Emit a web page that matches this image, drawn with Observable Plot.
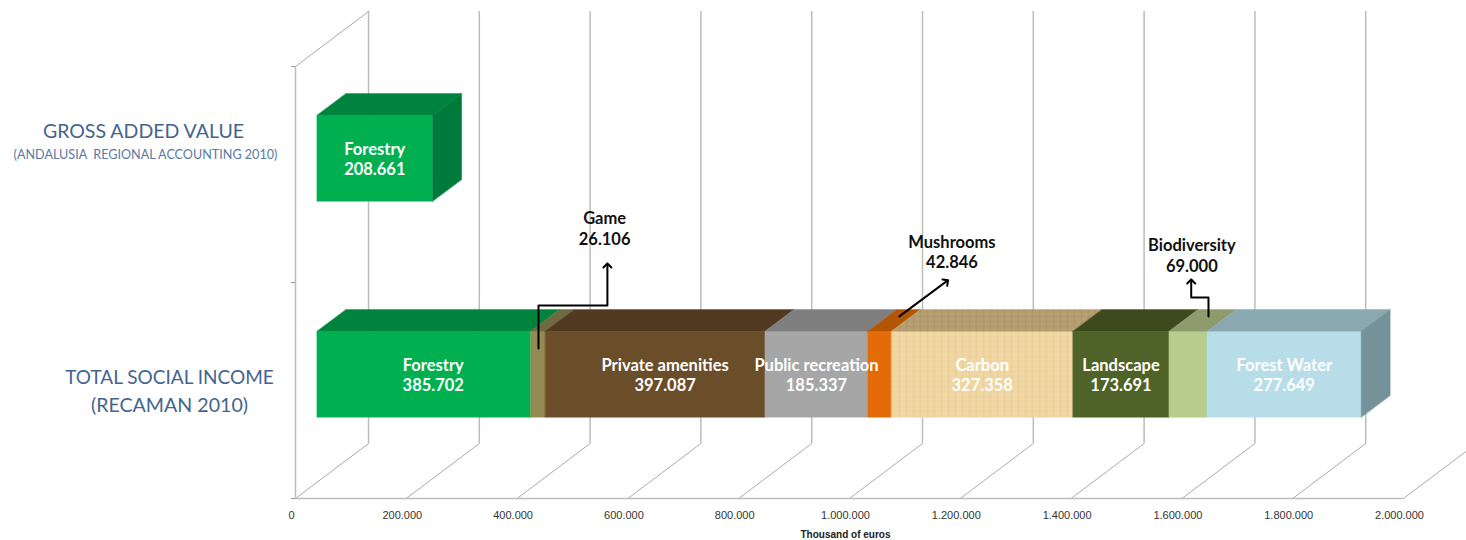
<!DOCTYPE html>
<html>
<head>
<meta charset="utf-8">
<style>html,body{margin:0;padding:0;background:#fff;overflow:hidden}</style>
<script src="https://cdn.jsdelivr.net/npm/d3@7"></script>
<script src="https://cdn.jsdelivr.net/npm/@observablehq/plot@0.6"></script>
</head>
<body>
<div id="chart"></div>
<script>
// Values (thousand of euros)
const incomeNames = ["Forestry","Game","Private amenities","Public recreation","Mushrooms","Carbon","Landscape","Biodiversity","Forest Water"];
const incomeValues = [385702,26106,397087,185337,42846,327358,173691,69000,277649];
const grossNames = ["Forestry"];
const grossValues = [208661];
const xTicks = [0,200000,400000,600000,800000,1000000,1200000,1400000,1600000,1800000,2000000];
const outsideLabels = ["Game","Mushrooms","Biodiversity"];
const gameLeader = [[438600,0.694],[438600,0.894],[563000,0.894],[563000,1.079]];
const mushroomLeader = [[1090000,0.843],[1175000,1.005]];
const biodiversityLeader = [[1648000,0.843],[1648000,0.931],[1616800,0.931],[1616800,1.005]];

// Palette
const frontColors = ["#00B050","#948A54","#6A4E2A","#A6A6A6","#E36C09","url(#wood)","#4F6228","#B8CC8E","#B7DDE8"];
const topColors = ["#00843D","#6F6A42","#523A20","#7F7F7F","#B35504","url(#woodTop)","#3C4A1E","#8D9B6D","#8AA8B0"];
const sideColor = {income:"#75919A", gross:"#007A3A"};

// 3D projection, in scale units: full depth of the chart box
const DX = 131800, DY = 0.2546;
const front = 0.2945, back = 0.692, halfH = 0.199;
const fmt = d3.formatLocale({decimal:",",thousands:".",grouping:[3],currency:["",""]}).format(",d");
const P = (x,y,d) => ({px:x+d*DX, py:y+d*DY});

function faces(x0,x1,yc,frontFill,topFill,id){
  const y0=yc-halfH, y1=yc+halfH;
  const quad=(pts,fill,k)=>pts.map(p=>({...p,fill,id:id+k}));
  return [
    quad([P(x0,y0,front),P(x1,y0,front),P(x1,y1,front),P(x0,y1,front)],frontFill,"f"),
    quad([P(x0,y1,front),P(x1,y1,front),P(x1,y1,back),P(x0,y1,back)],topFill,"t")
  ].flat();
}
function sideFace(x,yc,fill,id){
  const y0=yc-halfH, y1=yc+halfH;
  return [P(x,y0,front),P(x,y1,front),P(x,y1,back),P(x,y0,back)].map(p=>({...p,fill,id}));
}

let acc=0, poly=[], labels=[];
const labelNudge={ "Forestry":17000, "Private amenities":18000 };
incomeNames.forEach((n,i)=>{
  const v=incomeValues[i], x0=acc, x1=acc+v; acc=x1;
  poly.push(...faces(x0,x1,0.5,frontColors[i],topColors[i],"i"+i));
  if(!outsideLabels.includes(n)) labels.push({...P((x0+x1)/2+(labelNudge[n]||0),0.5,front),t:n+"\n"+fmt(v)});
});
poly.push(...sideFace(acc,0.5,sideColor.income,"iside"));
grossNames.forEach((n,i)=>{
  const v=grossValues[i];
  poly.push(...faces(0,v,1.5,"#00B050","#00843D","g"+i));
  poly.push(...sideFace(v,1.5,sideColor.gross,"gside"));
  labels.push({...P(v/2,1.5,front),t:n+"\n"+fmt(v)});
});

const outText=[
  {x:558000,y:1.253,t:"Game\n"+fmt(incomeValues[1])},
  {x:1185000,y:1.143,t:"Mushrooms\n"+fmt(incomeValues[4])},
  {x:1618000,y:1.128,t:"Biodiversity\n"+fmt(incomeValues[7])}
];

const gridV=xTicks.map(x=>({...P(x,0,1)}));
const floor=xTicks.flatMap(x=>[{x,y:0,id:x,d:0},{x,y:0,id:x,d:1}]).map(p=>({...P(p.x,p.y,p.d),id:p.id}));
const wallTop=[P(0,2,0),P(0,2,1)];

const side="Lato";
const chart=Plot.plot({
  width:1466,height:540,
  marginLeft:295,marginRight:63,marginTop:66,marginBottom:42,
  style:{background:"#fff",overflow:"hidden",fontFamily:"Liberation Sans"},
  x:{domain:[0,2000000],label:null},
  y:{domain:[0,2],label:null},
  color:{type:"identity"},
  marks:[
    // Back wall, floor, left wall
    Plot.ruleX(gridV,{x:"px",y1:DY,y2:2+DY,stroke:"#BDBDBD",strokeWidth:1.5}),
    Plot.line(floor,{x:"px",y:"py",z:"id",stroke:"#ABABAB",strokeWidth:1}),
    Plot.line(wallTop,{x:"px",y:"py",stroke:"#ABABAB",strokeWidth:1}),
    Plot.ruleX([0],{y1:0,y2:2,stroke:"#BDBDBD",strokeWidth:1.5}),
    Plot.ruleY([0],{x1:0,x2:2000000,stroke:"#BDBDBD",strokeWidth:1.5}),
    Plot.axisY({ticks:[0,1,2],tickFormat:()=>"",tickSize:4,stroke:"#9A9A9A",label:null}),
    Plot.axisX({ticks:xTicks,tickFormat:fmt,tickSize:0,tickPadding:13,dx:-4,fontSize:11,fill:"#333",label:null}),
    // Bars
    Plot.line(poly,{x:"px",y:"py",z:"id",fill:"fill",stroke:"fill",strokeWidth:0.4,curve:"linear-closed"}),
    // Value labels
    Plot.text(labels,{x:"px",y:"py",text:"t",fill:"#fff",fontFamily:"Lato",fontWeight:700,fontSize:16.5,lineHeight:1.24}),
    Plot.text(outText,{x:"x",y:"y",text:"t",fill:"#111",fontFamily:"Lato",fontWeight:700,fontSize:16.5,lineHeight:1.24}),
    // Callout leaders
    Plot.line(gameLeader,{x:"0",y:"1",stroke:"#000",strokeWidth:2,markerEnd:"arrow"}),
    Plot.line(mushroomLeader,{x:"0",y:"1",stroke:"#000",strokeWidth:2,markerEnd:"arrow"}),
    Plot.line(biodiversityLeader,{x:"0",y:"1",stroke:"#000",strokeWidth:2,markerEnd:"arrow"}),
    // Category labels
    Plot.text(["GROSS ADDED VALUE"],{x:0,y:1.5,dx:-152,dy:-43,fill:"#44648F",fontFamily:side,fontSize:19.5}),
    Plot.text(["(ANDALUSIA  REGIONAL ACCOUNTING 2010)"],{x:0,y:1.5,dx:-150,dy:-20,fill:"#5A7AA3",fontFamily:side,fontSize:12.6}),
    Plot.text(["TOTAL SOCIAL INCOME"],{x:0,y:0.5,dx:-126,dy:-13,fill:"#44648F",fontFamily:side,fontSize:19}),
    Plot.text(["(RECAMAN 2010)"],{x:0,y:0.5,dx:-126,dy:15,fill:"#44648F",fontFamily:side,fontSize:19.6}),
    Plot.text(["Thousand of euros"],{x:1000000,y:0,dx:-4,dy:36,fontWeight:700,fontSize:10,fill:"#222"})
  ]
});
const defs=d3.select(chart).insert("defs",":first-child");
function wood(id,base,a,b){
  const p=defs.append("pattern").attr("id",id).attr("patternUnits","userSpaceOnUse").attr("width",7).attr("height",5);
  p.append("rect").attr("width",7).attr("height",5).attr("fill",base);
  p.append("rect").attr("x",2).attr("width",2).attr("height",5).attr("fill",a).attr("opacity",0.45);
  p.append("rect").attr("y",3).attr("width",7).attr("height",1).attr("fill",b).attr("opacity",0.35);
}
wood("wood","#EFD6A2","#E6C78C","#F4E0B6");
wood("woodTop","#B59D70","#A68E60","#C0AA7E");
document.getElementById("chart").appendChild(chart);
</script>
</body>
</html>
